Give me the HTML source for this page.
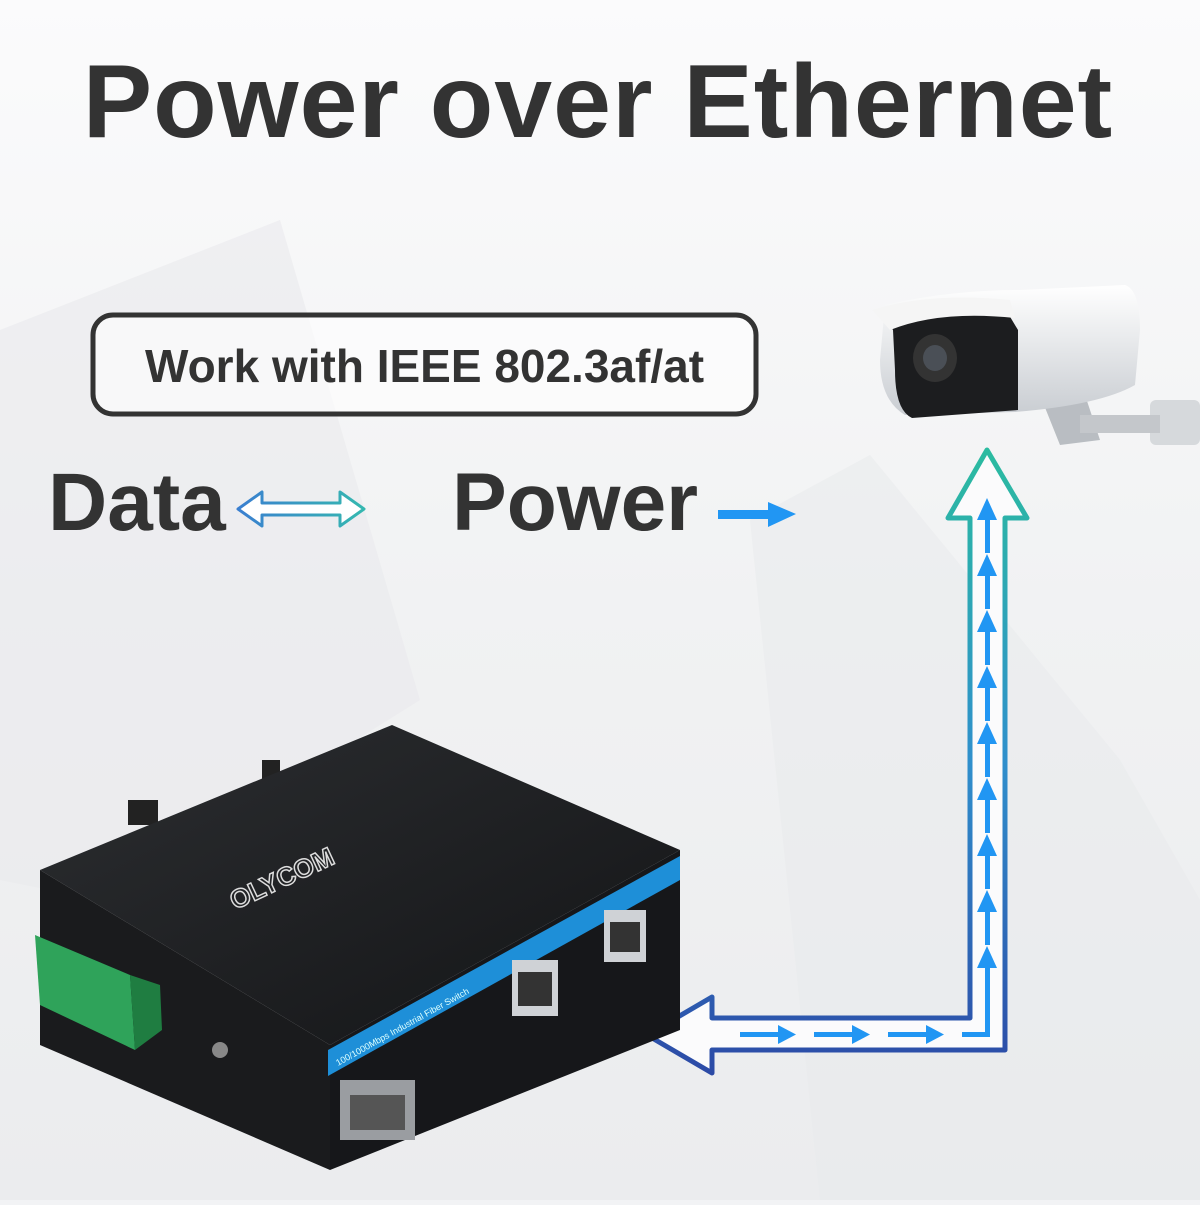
<!DOCTYPE html>
<html><head><meta charset="utf-8"><style>
html,body{margin:0;padding:0}
body{width:1200px;height:1200px;overflow:hidden;background:#f2f3f5;font-family:"Liberation Sans",sans-serif}
</style></head><body>
<svg width="1200" height="1200" viewBox="0 0 1200 1200" xmlns="http://www.w3.org/2000/svg">
<defs>
<linearGradient id="bg" x1="0" y1="0" x2="0" y2="1">
<stop offset="0" stop-color="#fbfbfc"/><stop offset="0.5" stop-color="#f1f2f3"/><stop offset="1" stop-color="#ebecee"/></linearGradient>
<linearGradient id="ag" x1="0" y1="450" x2="0" y2="1075" gradientUnits="userSpaceOnUse">
<stop offset="0" stop-color="#2bbba0"/><stop offset="0.5" stop-color="#2f8fcc"/><stop offset="1" stop-color="#2c4aa6"/></linearGradient>
<linearGradient id="dg" x1="0" y1="0" x2="1" y2="0">
<stop offset="0" stop-color="#3a7fd0"/><stop offset="1" stop-color="#35b8b0"/></linearGradient>
<linearGradient id="cam" x1="0" y1="0" x2="0" y2="1">
<stop offset="0" stop-color="#ffffff"/><stop offset="1" stop-color="#c9cdd2"/></linearGradient>
<linearGradient id="box" x1="0" y1="0" x2="1" y2="1">
<stop offset="0" stop-color="#2c2e31"/><stop offset="1" stop-color="#131416"/></linearGradient>
</defs>
<rect width="1200" height="1200" fill="url(#bg)"/>
<polygon points="0,330 280,220 420,700 100,900 0,880" fill="#e9eaec" opacity="0.6"/>
<polygon points="750,520 870,455 1120,760 1200,900 1200,1200 820,1200" fill="#e8e9eb" opacity="0.5"/>

<text x="598" y="137" text-anchor="middle" font-size="104" font-weight="bold" fill="#333" letter-spacing="1">Power over Ethernet</text>

<rect x="93" y="315" width="663" height="99" rx="20" fill="#fff" fill-opacity="0.6" stroke="#333" stroke-width="5"/>
<text x="145" y="382" font-size="46" font-weight="bold" fill="#333">Work with IEEE 802.3af/at</text>

<text x="48" y="530" font-size="82" font-weight="bold" fill="#333">Data</text>
<polygon points="238,509 262,492 262,503 340,503 340,492 364,509 340,526 340,515 262,515 262,526" fill="#fff" stroke="url(#dg)" stroke-width="3" stroke-linejoin="round"/>

<text x="452" y="530" font-size="82" font-weight="bold" fill="#333">Power</text>
<rect x="718" y="510" width="50" height="9" fill="#2196f3"/>
<polygon points="768,502 796,514 768,527" fill="#2196f3"/>

<polygon points="987,450 1027,518 1005,518 1005,1050 712,1050 712,1073 647,1035 712,997 712,1018 970,1018 970,518 948,518" fill="#fbfbfc" stroke="url(#ag)" stroke-width="5" stroke-linejoin="round"/>
<g fill="#2196f3">
<g id="ua"><rect x="985" y="520" width="5" height="33"/><polygon points="977,520 987,498 997,520"/></g>
<use href="#ua" y="56"/><use href="#ua" y="112"/><use href="#ua" y="168"/><use href="#ua" y="224"/>
<use href="#ua" y="280"/><use href="#ua" y="336"/><use href="#ua" y="392"/><use href="#ua" y="448"/>
<rect x="985" y="1000" width="5" height="36"/>
<rect x="962" y="1032" width="28" height="5"/>
<g id="ra"><rect x="740" y="1032" width="40" height="5"/><polygon points="778,1025 796,1034.5 778,1044"/></g>
<use href="#ra" x="74"/><use href="#ra" x="148"/>
</g>

<g>
<polygon points="1040,395 1085,395 1100,440 1060,445" fill="#b9bdc2"/>
<rect x="1150" y="400" width="50" height="45" rx="6" fill="#d6d9dc"/>
<rect x="1080" y="415" width="80" height="18" fill="#c4c7cb"/>
<path d="M885,305 Q950,290 1020,290 L1125,285 Q1140,290 1140,330 L1135,385 Q1100,405 1015,412 L905,415 Q880,400 880,360 Z" fill="url(#cam)"/>
<path d="M880,310 Q955,295 1000,300 L1018,330 L1018,410 L912,418 Q895,410 895,370 L893,330 Z" fill="#1c1d1f"/>
<ellipse cx="935" cy="358" rx="22" ry="24" fill="#333"/>
<ellipse cx="935" cy="358" rx="12" ry="13" fill="#4a4f56"/>
<path d="M872,310 Q930,292 1010,300 L1015,318 Q940,310 890,330 Z" fill="#f5f5f5"/>
</g>

<g>
<rect x="128" y="800" width="30" height="25" fill="#222"/>
<rect x="262" y="760" width="18" height="20" fill="#222"/>
<polygon points="40,870 392,725 680,850 330,1045" fill="url(#box)"/>
<polygon points="40,870 330,1045 330,1170 40,1045" fill="#1a1b1d"/>
<polygon points="330,1045 680,850 680,1030 330,1170" fill="#16171a"/>
<polygon points="328,1050 680,856 680,880 328,1076" fill="#1e8fd8"/>
<text x="338" y="1066" font-size="9" fill="#dff" transform="rotate(-29 338 1066)">100/1000Mbps Industrial Fiber Switch</text>
<text x="235" y="910" font-size="26" font-weight="bold" fill="none" stroke="#ddd" stroke-width="1.5" transform="rotate(-25 235 910)">OLYCOM</text>
<polygon points="35,935 130,975 135,1050 40,1005" fill="#2fa35a"/>
<polygon points="130,975 160,985 162,1030 135,1050" fill="#1f7d41"/>
<rect x="512" y="960" width="46" height="56" fill="#cfd2d6"/>
<rect x="518" y="972" width="34" height="34" fill="#333"/>
<rect x="604" y="910" width="42" height="52" fill="#cfd2d6"/>
<rect x="610" y="922" width="30" height="30" fill="#333"/>
<rect x="340" y="1080" width="75" height="60" fill="#9a9da1"/>
<rect x="350" y="1095" width="55" height="35" fill="#555"/>
<circle cx="220" cy="1050" r="8" fill="#888"/>
</g>
</svg>
</body></html>
